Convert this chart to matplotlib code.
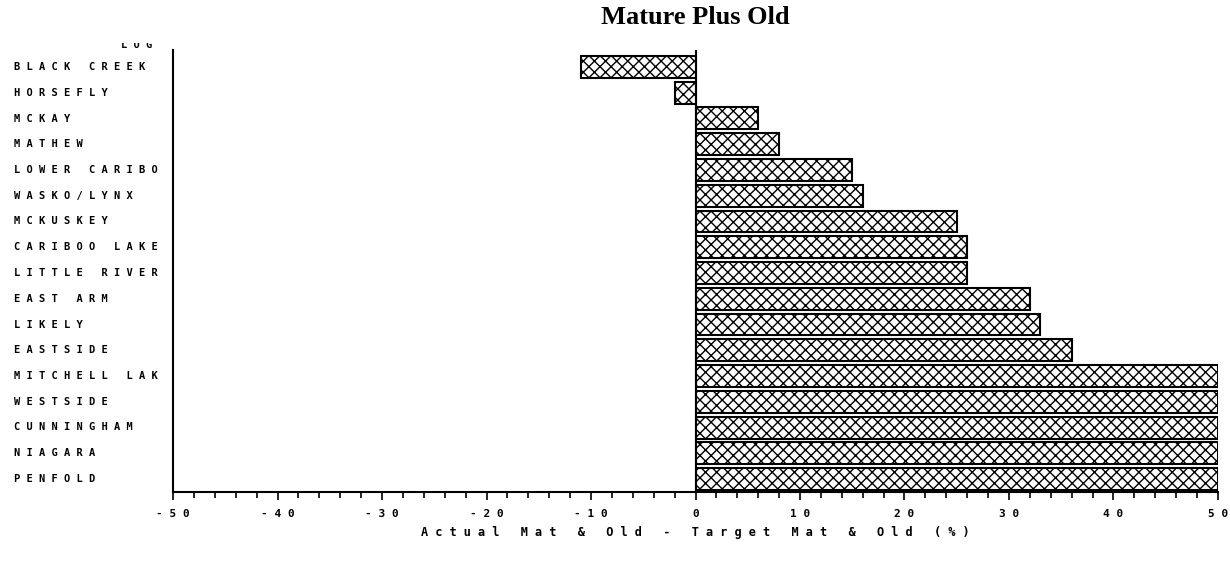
import numpy as np
import matplotlib
matplotlib.use('Agg')
import matplotlib.pyplot as plt
from matplotlib.ticker import MultipleLocator
from matplotlib.transforms import Bbox

# categories top to bottom
names = ['BLACK CREEK', 'HORSEFLY', 'MCKAY', 'MATHEW', 'LOWER CARIBO',
         'WASKO/LYNX', 'MCKUSKEY', 'CARIBOO LAKE', 'LITTLE RIVER', 'EAST ARM',
         'LIKELY', 'EASTSIDE', 'MITCHELL LAK', 'WESTSIDE', 'CUNNINGHAM',
         'NIAGARA', 'PENFOLD']
diffs = [-11, -2, 6, 8, 15, 16, 25, 26, 26, 32, 33, 36, 50, 50, 50, 50, 50]
xticks = [-50, -40, -30, -20, -10, 0, 10, 20, 30, 40, 50]


def spaced(s):
    return ' '.join(s)


plt.rcParams['hatch.linewidth'] = 1.0
fig = plt.figure(figsize=(12.3, 5.67), dpi=100)
ax = fig.add_axes([0.1407, 0.1323, 0.8495, 0.7797])

ypos = np.arange(len(names))[::-1]
ax.barh(ypos, diffs, height=0.85, color='white', edgecolor='black',
        linewidth=1.5, hatch='xxx')
ax.axvline(0, color='black', lw=1.5)

ax.set_xlim(-50, 50)
ax.set_ylim(-0.5, 16.66)
ax.set_yticks([])
ax.set_xticks(xticks)
ax.set_xticklabels([spaced(str(t)) for t in xticks], family='DejaVu Sans Mono',
                   fontweight='bold', fontsize=8)
ax.xaxis.set_minor_locator(MultipleLocator(2))
ax.tick_params(axis='x', which='major', length=6, width=1.2, pad=6)
ax.tick_params(axis='x', which='minor', length=4, width=1.2)

for y, n in zip(ypos, names):
    fig.text(14 / 1230, 1 - (67 + (16 - y) * 25.75) / 567, spaced(n),
             family='DejaVu Sans Mono', fontweight='bold', fontsize=7.5,
             va='center', ha='left')

# label of the next category, cut off at the top
log = fig.text(152 / 1230, 1 - 45 / 567, spaced('LOG'), family='DejaVu Sans Mono',
               fontweight='bold', fontsize=7.5, va='center', ha='right',
               clip_on=True)
log.set_clip_box(Bbox([[0, 0], [1230, 567 - 43]]))

for side in ['top', 'right']:
    ax.spines[side].set_visible(False)
ax.spines['left'].set_linewidth(1.5)
ax.spines['bottom'].set_linewidth(1.5)

ax.set_xlabel(spaced('Actual Mat & Old - Target Mat & Old (%)'),
              family='DejaVu Sans Mono', fontweight='bold', fontsize=8.6,
              labelpad=5)
fig.text(0.5655, 1 - 18 / 567, 'Mature Plus Old', family='Liberation Serif',
         fontweight='bold', fontsize=19, ha='center', va='center')

fig.savefig('out.png', dpi=100)
